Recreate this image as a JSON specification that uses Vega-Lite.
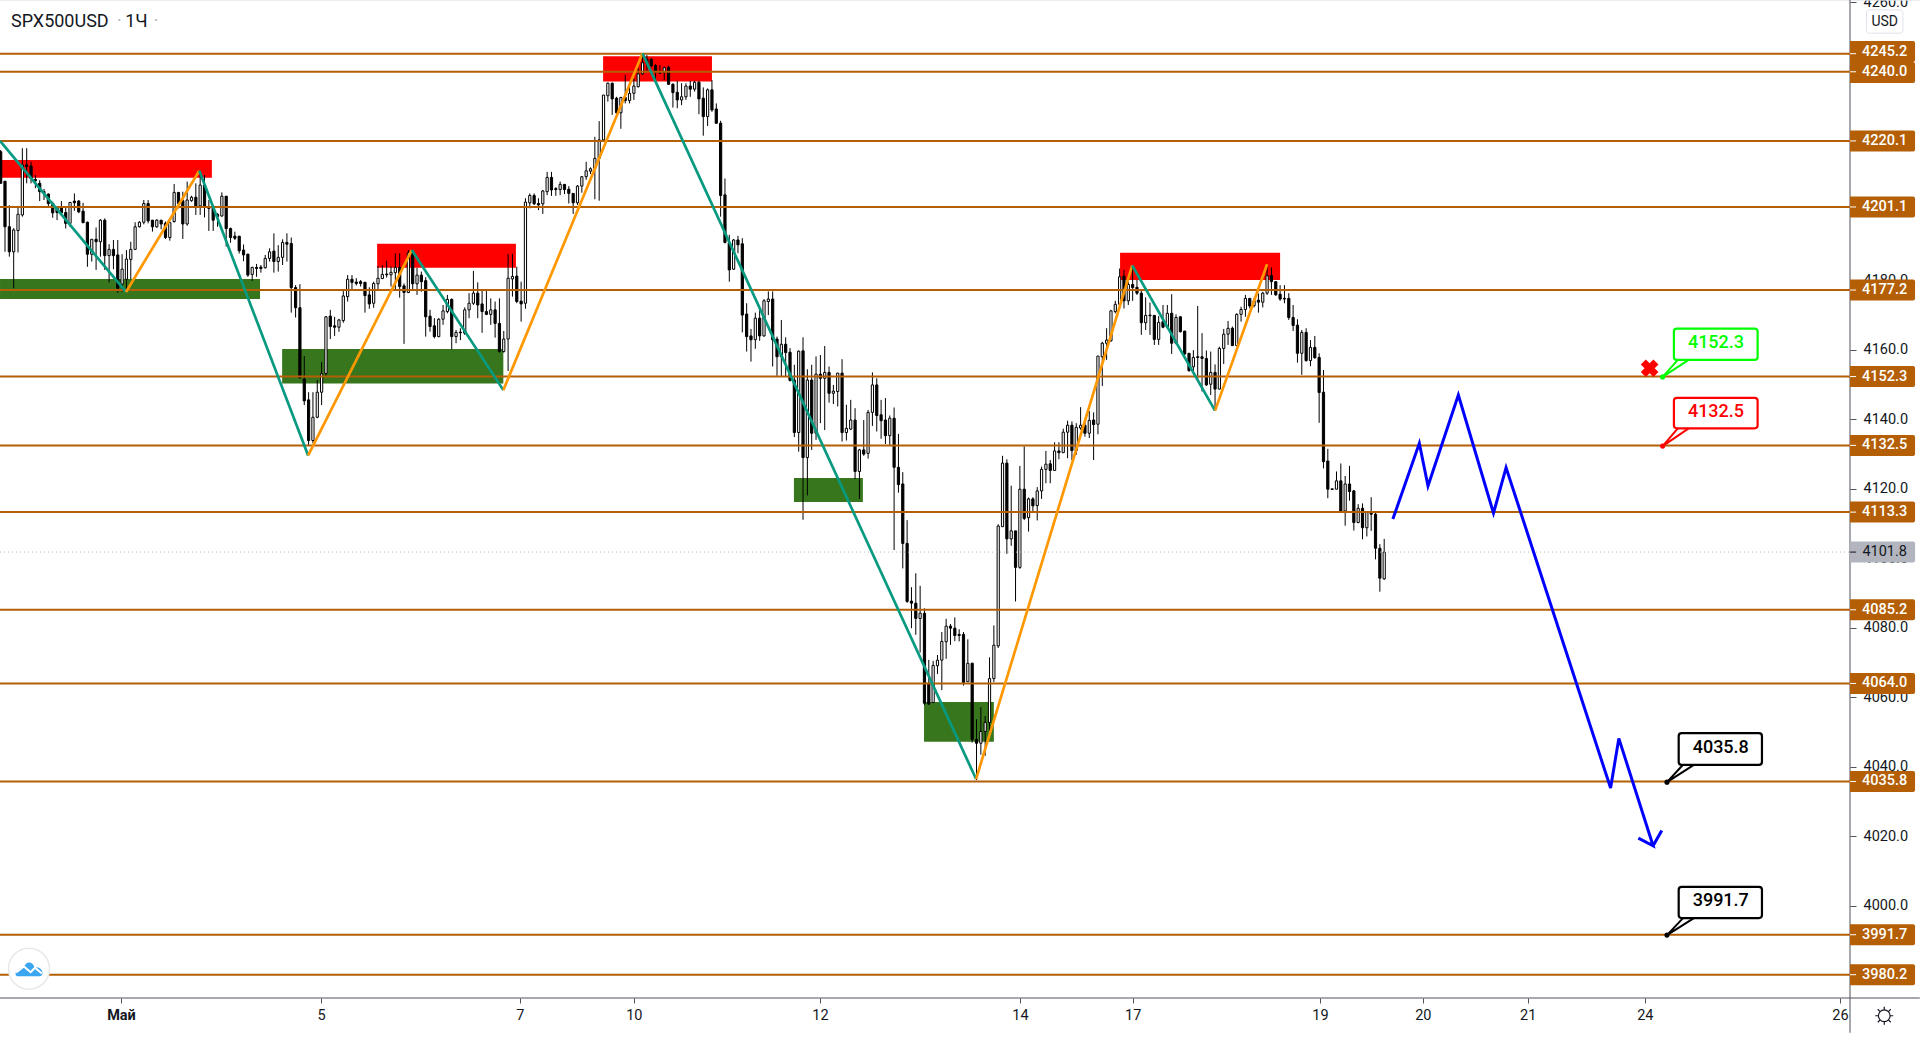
{"$schema":"https://vega.github.io/schema/vega-lite/v6.json","width":1850,"height":998,"autosize":{"type":"none"},"padding":{"left":0,"top":0,"right":70,"bottom":42},"background":"white","config":{"view":{"stroke":null},"font":"Roboto"},
"resolve":{"scale":{"color":"independent","stroke":"independent"}},
"datasets":{
"candles":[
{"i":0,"o":4217,"h":4217.5,"l":4207.9,"c":4207.9},{"i":1,"o":4208.5,"h":4208.5,"l":4188.2,"c":4195.4},{"i":2,"o":4195.4,"h":4201.6,"l":4186.8,"c":4188.2},{"i":3,"o":4188.2,"h":4195,"l":4177.7,"c":4194.5},{"i":4,"o":4194.3,"h":4201.4,"l":4188,"c":4199},{"i":5,"o":4198.8,"h":4218,"l":4198.3,"c":4213.2},{"i":6,"o":4213.2,"h":4218,"l":4207.9,"c":4212.7},{"i":7,"o":4212.9,"h":4214.1,"l":4207.9,"c":4209.3},{"i":8,"o":4209,"h":4210.3,"l":4206.5,"c":4208.6},{"i":9,"o":4207.9,"h":4208.8,"l":4202.8,"c":4205.5},
{"i":10,"o":4205.5,"h":4206.3,"l":4203.1,"c":4205.2},{"i":11,"o":4204.8,"h":4205,"l":4201.4,"c":4202.1},{"i":12,"o":4202.1,"h":4202.6,"l":4198,"c":4199.4},{"i":13,"o":4201,"h":4201,"l":4197.3,"c":4199.5},{"i":14,"o":4201,"h":4202.8,"l":4198.8,"c":4199.4},{"i":15,"o":4199.5,"h":4201,"l":4194.9,"c":4196.4},{"i":16,"o":4196.4,"h":4202.4,"l":4195.4,"c":4202.4},{"i":17,"o":4202.8,"h":4205,"l":4200,"c":4202.3},{"i":18,"o":4202.8,"h":4203.1,"l":4199.3,"c":4199.7},{"i":19,"o":4199.9,"h":4202.3,"l":4196.4,"c":4196.6},
{"i":20,"o":4196.7,"h":4196.9,"l":4183.9,"c":4187.5},{"i":21,"o":4187.5,"h":4191.8,"l":4185.4,"c":4191.8},{"i":22,"o":4191.8,"h":4195.2,"l":4183,"c":4191.1},{"i":23,"o":4191.1,"h":4197.6,"l":4186.8,"c":4197.3},{"i":24,"o":4197.3,"h":4197.8,"l":4183,"c":4187.1},{"i":25,"o":4187.1,"h":4190.4,"l":4179.4,"c":4188.9},{"i":26,"o":4188.9,"h":4191.6,"l":4183.2,"c":4187.1},{"i":27,"o":4187.3,"h":4191.6,"l":4176.4,"c":4177.7},{"i":28,"o":4178.9,"h":4187.5,"l":4176.7,"c":4183.2},{"i":29,"o":4180.3,"h":4188.7,"l":4176.7,"c":4186.1},
{"i":30,"o":4186,"h":4191.1,"l":4180.3,"c":4188.9},{"i":31,"o":4188.9,"h":4196.7,"l":4188.9,"c":4195.4},{"i":32,"o":4195.4,"h":4197,"l":4195.2,"c":4196.7},{"i":33,"o":4196.7,"h":4203.1,"l":4196.1,"c":4202.1},{"i":34,"o":4202.1,"h":4203.1,"l":4196.4,"c":4197.1},{"i":35,"o":4197.3,"h":4197.3,"l":4194,"c":4195.4},{"i":36,"o":4195.4,"h":4197.6,"l":4195.1,"c":4197.3},{"i":37,"o":4197.3,"h":4197.3,"l":4194.7,"c":4196.2},{"i":38,"o":4196.4,"h":4196.9,"l":4191.9,"c":4192.3},{"i":39,"o":4192.3,"h":4196.9,"l":4191.4,"c":4196.6},
{"i":40,"o":4196.9,"h":4207.7,"l":4196.6,"c":4205.3},{"i":41,"o":4205.3,"h":4205.3,"l":4200.7,"c":4202.1},{"i":42,"o":4202.9,"h":4205.5,"l":4191.9,"c":4196.2},{"i":43,"o":4196.2,"h":4208.4,"l":4195.7,"c":4203.1},{"i":44,"o":4202.9,"h":4204.3,"l":4202.6,"c":4203.9},{"i":45,"o":4203.9,"h":4207.9,"l":4198.8,"c":4201.4},{"i":46,"o":4201.4,"h":4211.5,"l":4198.8,"c":4207.4},{"i":47,"o":4207.4,"h":4210.3,"l":4198.1,"c":4201},{"i":48,"o":4201.2,"h":4203.1,"l":4194.2,"c":4200.7},{"i":49,"o":4201.2,"h":4201.7,"l":4194.2,"c":4197.3},
{"i":50,"o":4199,"h":4199.3,"l":4195.4,"c":4198.3},{"i":51,"o":4198.5,"h":4205.3,"l":4198.3,"c":4204.2},{"i":52,"o":4204.2,"h":4204.2,"l":4189.7,"c":4194.9},{"i":53,"o":4194.9,"h":4195.2,"l":4190.8,"c":4192.3},{"i":54,"o":4192.7,"h":4194,"l":4191.6,"c":4192.1},{"i":55,"o":4192.7,"h":4192.7,"l":4187.7,"c":4188.5},{"i":56,"o":4188.7,"h":4190.3,"l":4185.5,"c":4187.3},{"i":57,"o":4187.5,"h":4187.7,"l":4181,"c":4181.5},{"i":58,"o":4181.7,"h":4183.9,"l":4179.8,"c":4183.7},{"i":59,"o":4183.7,"h":4184.7,"l":4181,"c":4183.4},
{"i":60,"o":4183.8,"h":4184.4,"l":4182.2,"c":4183.4},{"i":61,"o":4183.6,"h":4187.3,"l":4183.4,"c":4186.3},{"i":62,"o":4186.3,"h":4189.2,"l":4185.4,"c":4188.2},{"i":63,"o":4188.4,"h":4193.5,"l":4182.2,"c":4185.4},{"i":64,"o":4185.4,"h":4190.1,"l":4182.5,"c":4186.6},{"i":65,"o":4186.6,"h":4191.8,"l":4184.4,"c":4190.9},{"i":66,"o":4190.9,"h":4193.5,"l":4185.4,"c":4190.4},{"i":67,"o":4190.6,"h":4192.3,"l":4170.7,"c":4177.9},{"i":68,"o":4177.9,"h":4178.6,"l":4169.3,"c":4172.1},{"i":69,"o":4172.1,"h":4178.9,"l":4151.8,"c":4151.9},
{"i":70,"o":4151.6,"h":4158.2,"l":4144.1,"c":4145.3},{"i":71,"o":4145.6,"h":4147.8,"l":4132.6,"c":4133.9},{"i":72,"o":4133.9,"h":4147.8,"l":4133.1,"c":4140.6},{"i":73,"o":4140.6,"h":4151.3,"l":4140.3,"c":4147.8},{"i":74,"o":4147.8,"h":4156.5,"l":4144.1,"c":4153.1},{"i":75,"o":4153.2,"h":4169.7,"l":4152.3,"c":4169.5},{"i":76,"o":4169.7,"h":4171.5,"l":4163.1,"c":4166.7},{"i":77,"o":4166.9,"h":4169.5,"l":4164,"c":4166.5},{"i":78,"o":4166.5,"h":4168.9,"l":4165.2,"c":4168.6},{"i":79,"o":4168.4,"h":4177,"l":4167.8,"c":4175.5},
{"i":80,"o":4175.3,"h":4181.5,"l":4173.9,"c":4180.3},{"i":81,"o":4180.3,"h":4181.5,"l":4177.2,"c":4179.4},{"i":82,"o":4179.5,"h":4180.6,"l":4178.5,"c":4179.1},{"i":83,"o":4179.6,"h":4180.1,"l":4178.2,"c":4179.1},{"i":84,"o":4179.4,"h":4179.6,"l":4170.7,"c":4175.6},{"i":85,"o":4175.8,"h":4178,"l":4171.8,"c":4173.2},{"i":86,"o":4173.4,"h":4179.6,"l":4172.1,"c":4179.1},{"i":87,"o":4179,"h":4184.1,"l":4177.4,"c":4180.6},{"i":88,"o":4180.5,"h":4184.4,"l":4180.5,"c":4181.7},{"i":89,"o":4181.8,"h":4185.6,"l":4180.8,"c":4181.6},
{"i":90,"o":4181.6,"h":4184,"l":4178.2,"c":4182.3},{"i":91,"o":4182.2,"h":4187.8,"l":4177.2,"c":4183.7},{"i":92,"o":4183.7,"h":4187.8,"l":4175,"c":4178.2},{"i":93,"o":4178.4,"h":4179.1,"l":4161.7,"c":4176.5},{"i":94,"o":4176.5,"h":4188.7,"l":4176.3,"c":4187.9},{"i":95,"o":4187.9,"h":4188.7,"l":4177.2,"c":4179},{"i":96,"o":4179,"h":4183.6,"l":4175.8,"c":4181.5},{"i":97,"o":4181.5,"h":4182.5,"l":4176.7,"c":4179.6},{"i":98,"o":4179.9,"h":4180.9,"l":4163.8,"c":4169.5},{"i":99,"o":4169.7,"h":4171.5,"l":4165.2,"c":4166.7},
{"i":100,"o":4166.9,"h":4169.1,"l":4163.3,"c":4163.8},{"i":101,"o":4163.8,"h":4169.1,"l":4163.6,"c":4168.8},{"i":102,"o":4168.8,"h":4172.9,"l":4167.2,"c":4171.2},{"i":103,"o":4171,"h":4175.8,"l":4170.5,"c":4174.5},{"i":104,"o":4174.5,"h":4174.8,"l":4160.1,"c":4163.8},{"i":105,"o":4163.8,"h":4165.7,"l":4161.9,"c":4165},{"i":106,"o":4165.1,"h":4166.2,"l":4162.8,"c":4164.9},{"i":107,"o":4164.8,"h":4172.2,"l":4164.3,"c":4171.5},{"i":108,"o":4171.5,"h":4176.3,"l":4169.1,"c":4173.4},{"i":109,"o":4173.4,"h":4182.7,"l":4172.9,"c":4176.3},
{"i":110,"o":4176.3,"h":4179.4,"l":4169.1,"c":4172.9},{"i":111,"o":4173.2,"h":4177.2,"l":4164.9,"c":4171},{"i":112,"o":4171,"h":4176.9,"l":4170,"c":4170.2},{"i":113,"o":4170.2,"h":4174.8,"l":4167.2,"c":4171.5},{"i":114,"o":4171.5,"h":4173.9,"l":4163.5,"c":4167.6},{"i":115,"o":4167.6,"h":4174.8,"l":4159.2,"c":4159.5},{"i":116,"o":4159.5,"h":4165.4,"l":4159.2,"c":4163.1},{"i":117,"o":4163.1,"h":4187.6,"l":4153.9,"c":4180.6},{"i":118,"o":4180.4,"h":4187.6,"l":4175.3,"c":4181.1},{"i":119,"o":4181.2,"h":4183.9,"l":4173.4,"c":4173.9},
{"i":120,"o":4174,"h":4179.6,"l":4168.1,"c":4173.2},{"i":121,"o":4173.4,"h":4203.6,"l":4171.8,"c":4202.5},{"i":122,"o":4202.3,"h":4205,"l":4200.7,"c":4204.4},{"i":123,"o":4204.4,"h":4205,"l":4201.7,"c":4202},{"i":124,"o":4202.1,"h":4203.6,"l":4200.2,"c":4201.7},{"i":125,"o":4202,"h":4206,"l":4199.1,"c":4205.7},{"i":126,"o":4205.5,"h":4211.2,"l":4204.5,"c":4209.6},{"i":127,"o":4209.6,"h":4211.2,"l":4204.3,"c":4206},{"i":128,"o":4206.4,"h":4206.8,"l":4204.3,"c":4206.1},{"i":129,"o":4206.1,"h":4208.4,"l":4204.5,"c":4207.6},
{"i":130,"o":4207.6,"h":4207.6,"l":4204.8,"c":4206.1},{"i":131,"o":4206.2,"h":4207.1,"l":4202.1,"c":4205},{"i":132,"o":4205,"h":4205,"l":4199.1,"c":4202.3},{"i":133,"o":4202.3,"h":4207.4,"l":4201.7,"c":4207.1},{"i":134,"o":4207.1,"h":4210,"l":4205.2,"c":4209.8},{"i":135,"o":4209.8,"h":4214.1,"l":4208.9,"c":4211.5},{"i":136,"o":4211.4,"h":4212.5,"l":4210.6,"c":4212.1},{"i":137,"o":4212.2,"h":4221.3,"l":4203.3,"c":4215.1},{"i":138,"o":4215.1,"h":4225.8,"l":4202.9,"c":4220.4},{"i":139,"o":4220.4,"h":4233.3,"l":4219.9,"c":4233.3},
{"i":140,"o":4233.1,"h":4236.9,"l":4231.4,"c":4236.7},{"i":141,"o":4236.7,"h":4236.9,"l":4227.6,"c":4232.2},{"i":142,"o":4232.4,"h":4232.8,"l":4227.6,"c":4228.2},{"i":143,"o":4228.2,"h":4232.8,"l":4223.6,"c":4232.6},{"i":144,"o":4232.6,"h":4239.1,"l":4230.9,"c":4231.7},{"i":145,"o":4231.7,"h":4235.7,"l":4230.9,"c":4233.8},{"i":146,"o":4233.8,"h":4238.1,"l":4231.9,"c":4235.9},{"i":147,"o":4235.7,"h":4241,"l":4235.5,"c":4239.4},{"i":148,"o":4239.4,"h":4245.3,"l":4239.1,"c":4242.6},{"i":149,"o":4243.6,"h":4244.8,"l":4240.3,"c":4242.4},
{"i":150,"o":4243.6,"h":4243.9,"l":4241.3,"c":4241.7},{"i":151,"o":4241.8,"h":4242.2,"l":4237.8,"c":4239.9},{"i":152,"o":4239.8,"h":4241.9,"l":4239.4,"c":4239.6},{"i":153,"o":4239.7,"h":4241.5,"l":4237.6,"c":4241.2},{"i":154,"o":4241.3,"h":4241.7,"l":4236.2,"c":4236.4},{"i":155,"o":4236.4,"h":4236.7,"l":4229.7,"c":4234},{"i":156,"o":4234.1,"h":4237.4,"l":4229.5,"c":4231.9},{"i":157,"o":4231.9,"h":4236.7,"l":4230.4,"c":4232.8},{"i":158,"o":4232.8,"h":4236.7,"l":4231.9,"c":4235.9},{"i":159,"o":4235.9,"h":4237.4,"l":4232.8,"c":4235},
{"i":160,"o":4235,"h":4237.4,"l":4234.3,"c":4237},{"i":161,"o":4237,"h":4237.4,"l":4227.8,"c":4232.2},{"i":162,"o":4232.4,"h":4235.5,"l":4221.6,"c":4227.1},{"i":163,"o":4227.1,"h":4235.2,"l":4224.4,"c":4234.8},{"i":164,"o":4234.8,"h":4237.6,"l":4228.5,"c":4229},{"i":165,"o":4229.3,"h":4230.9,"l":4225,"c":4225.2},{"i":166,"o":4225.2,"h":4225.9,"l":4198.3,"c":4204.4},{"i":167,"o":4204.6,"h":4209.3,"l":4190.6,"c":4190.9},{"i":168,"o":4190.8,"h":4193.1,"l":4179.6,"c":4183},{"i":169,"o":4183.2,"h":4191.9,"l":4183,"c":4191.6},
{"i":170,"o":4191.6,"h":4192.8,"l":4187.8,"c":4190.2},{"i":171,"o":4190.5,"h":4192.1,"l":4165,"c":4170},{"i":172,"o":4170.3,"h":4173.4,"l":4159.5,"c":4163.8},{"i":173,"o":4164,"h":4166,"l":4156.6,"c":4162.9},{"i":174,"o":4162.9,"h":4170.7,"l":4160.3,"c":4169.1},{"i":175,"o":4169.1,"h":4171.5,"l":4162.6,"c":4164},{"i":176,"o":4164,"h":4174.6,"l":4163.8,"c":4174.1},{"i":177,"o":4173.9,"h":4176.8,"l":4170,"c":4174.6},{"i":178,"o":4174.6,"h":4176.8,"l":4155.2,"c":4162.9},{"i":179,"o":4163.1,"h":4163.8,"l":4152.5,"c":4158},
{"i":180,"o":4158,"h":4168.6,"l":4152.3,"c":4161.6},{"i":181,"o":4161.6,"h":4163.6,"l":4152.3,"c":4159.2},{"i":182,"o":4159.3,"h":4160.5,"l":4150.9,"c":4151.2},{"i":183,"o":4151.3,"h":4155.7,"l":4134.9,"c":4136.2},{"i":184,"o":4136.2,"h":4159.8,"l":4130.7,"c":4159.6},{"i":185,"o":4159.7,"h":4163.6,"l":4111.1,"c":4129},{"i":186,"o":4129,"h":4154.4,"l":4118.1,"c":4151.3},{"i":187,"o":4151.3,"h":4155.7,"l":4131.2,"c":4136},{"i":188,"o":4136,"h":4158.1,"l":4134.1,"c":4153},{"i":189,"o":4153,"h":4158.5,"l":4138.9,"c":4151.8},
{"i":190,"o":4151.8,"h":4161.1,"l":4136.9,"c":4153.5},{"i":191,"o":4153.5,"h":4155.2,"l":4144.8,"c":4147.5},{"i":192,"o":4147.5,"h":4149.9,"l":4144.4,"c":4148.1},{"i":193,"o":4148,"h":4153.3,"l":4143.7,"c":4153.3},{"i":194,"o":4153.3,"h":4157.3,"l":4133.6,"c":4136.2},{"i":195,"o":4136.2,"h":4144.2,"l":4133.9,"c":4137.4},{"i":196,"o":4137.2,"h":4145.6,"l":4136.9,"c":4139.8},{"i":197,"o":4139.8,"h":4143.2,"l":4122.8,"c":4125},{"i":198,"o":4125,"h":4131.5,"l":4117.1,"c":4131.2},{"i":199,"o":4131.2,"h":4139.8,"l":4129.5,"c":4130},
{"i":200,"o":4130.2,"h":4142.7,"l":4128.7,"c":4142},{"i":201,"o":4142,"h":4153.5,"l":4138.1,"c":4149.9},{"i":202,"o":4149.9,"h":4151.8,"l":4136.5,"c":4141.1},{"i":203,"o":4141.3,"h":4145.6,"l":4134.4,"c":4139.6},{"i":204,"o":4139.8,"h":4146.1,"l":4132.9,"c":4135.3},{"i":205,"o":4135.3,"h":4141.1,"l":4132.6,"c":4140.3},{"i":206,"o":4140.3,"h":4143.4,"l":4102.4,"c":4126.2},{"i":207,"o":4126.2,"h":4135.8,"l":4118.9,"c":4121.2},{"i":208,"o":4121.4,"h":4124.8,"l":4097.1,"c":4104.3},{"i":209,"o":4104.3,"h":4111,"l":4087.2,"c":4087.6},
{"i":210,"o":4087.7,"h":4091.7,"l":4079.9,"c":4087.1},{"i":211,"o":4087.1,"h":4095.7,"l":4078,"c":4082.7},{"i":212,"o":4082.7,"h":4092.1,"l":4072.9,"c":4084.2},{"i":213,"o":4084.2,"h":4085.6,"l":4057.8,"c":4058.3},{"i":214,"o":4064.1,"h":4070.8,"l":4057.8,"c":4058.1},{"i":215,"o":4058.5,"h":4070.5,"l":4058.5,"c":4069.2},{"i":216,"o":4069.1,"h":4072.2,"l":4066.7,"c":4070.7},{"i":217,"o":4070.7,"h":4078.8,"l":4062.1,"c":4076.1},{"i":218,"o":4076,"h":4082.6,"l":4071.1,"c":4080.5},{"i":219,"o":4080.5,"h":4081.1,"l":4075.1,"c":4079.9},
{"i":220,"o":4079.9,"h":4083,"l":4076.2,"c":4077.8},{"i":221,"o":4078.1,"h":4079.6,"l":4076.1,"c":4077.8},{"i":222,"o":4078.1,"h":4078.8,"l":4063.4,"c":4064.3},{"i":223,"o":4064.5,"h":4076.7,"l":4064.5,"c":4069.8},{"i":224,"o":4069.8,"h":4070,"l":4047,"c":4047.9},{"i":225,"o":4047.9,"h":4053.7,"l":4036.2,"c":4046.8},{"i":226,"o":4046.8,"h":4057.2,"l":4043.5,"c":4050.2},{"i":227,"o":4050.2,"h":4054.6,"l":4043.2,"c":4052.8},{"i":228,"o":4052.8,"h":4071.5,"l":4050.2,"c":4065.4},{"i":229,"o":4065.4,"h":4080.7,"l":4064.4,"c":4075},
{"i":230,"o":4074.8,"h":4109.8,"l":4074.2,"c":4109.3},{"i":231,"o":4109.1,"h":4129.5,"l":4109.1,"c":4127.4},{"i":232,"o":4127.4,"h":4128.5,"l":4101.3,"c":4105.6},{"i":233,"o":4105.6,"h":4120.9,"l":4103.6,"c":4107.9},{"i":234,"o":4107.9,"h":4107.9,"l":4087.6,"c":4097.4},{"i":235,"o":4097.4,"h":4126.6,"l":4097,"c":4119.9},{"i":236,"o":4119.9,"h":4132.2,"l":4111,"c":4111.5},{"i":237,"o":4111.7,"h":4117.5,"l":4107.7,"c":4117.1},{"i":238,"o":4117.1,"h":4117.6,"l":4113.5,"c":4115.1},{"i":239,"o":4115.2,"h":4120.5,"l":4110.9,"c":4119.4},
{"i":240,"o":4119.4,"h":4126.4,"l":4117.1,"c":4125.6},{"i":241,"o":4125.6,"h":4130.9,"l":4121.6,"c":4127.1},{"i":242,"o":4127.2,"h":4128.3,"l":4121.6,"c":4125.3},{"i":243,"o":4125.3,"h":4133.4,"l":4125.3,"c":4130.9},{"i":244,"o":4130.9,"h":4133.4,"l":4128.5,"c":4130.4},{"i":245,"o":4130.4,"h":4137.3,"l":4130.3,"c":4136.3},{"i":246,"o":4136.3,"h":4139.6,"l":4128.8,"c":4138.3},{"i":247,"o":4138.3,"h":4139.4,"l":4128.3,"c":4131},{"i":248,"o":4131,"h":4138.9,"l":4129.8,"c":4137.7},{"i":249,"o":4137.5,"h":4143.5,"l":4137,"c":4138.3},
{"i":250,"o":4138.3,"h":4139.4,"l":4135,"c":4136},{"i":251,"o":4136,"h":4142.4,"l":4134.6,"c":4139.7},{"i":252,"o":4139.8,"h":4142,"l":4128.3,"c":4138.5},{"i":253,"o":4138.6,"h":4158.2,"l":4135.7,"c":4158.2},{"i":254,"o":4158,"h":4162.3,"l":4149.6,"c":4161.9},{"i":255,"o":4161.9,"h":4166.2,"l":4157.1,"c":4162.8},{"i":256,"o":4162.6,"h":4171.5,"l":4162.3,"c":4171.2},{"i":257,"o":4171,"h":4174.1,"l":4170.5,"c":4173.1},{"i":258,"o":4173.1,"h":4183.4,"l":4172.9,"c":4181},{"i":259,"o":4181.2,"h":4183,"l":4171.9,"c":4174.1},
{"i":260,"o":4174.1,"h":4179.6,"l":4172.9,"c":4178.8},{"i":261,"o":4178.8,"h":4183.7,"l":4174.1,"c":4177.9},{"i":262,"o":4178,"h":4180.1,"l":4175.8,"c":4176.3},{"i":263,"o":4176.3,"h":4177.2,"l":4164.3,"c":4167.8},{"i":264,"o":4167.8,"h":4175.1,"l":4165.7,"c":4169.9},{"i":265,"o":4170,"h":4173.6,"l":4164.3,"c":4169.8},{"i":266,"o":4169.9,"h":4170,"l":4161.4,"c":4163},{"i":267,"o":4163,"h":4169.7,"l":4161.4,"c":4167.9},{"i":268,"o":4168.1,"h":4172.9,"l":4166.2,"c":4166.5},{"i":269,"o":4166.5,"h":4172.9,"l":4166.2,"c":4170.5},
{"i":270,"o":4170.5,"h":4176,"l":4158.8,"c":4161.9},{"i":271,"o":4161.9,"h":4170.2,"l":4161.6,"c":4169.3},{"i":272,"o":4169.5,"h":4169.7,"l":4165,"c":4165.2},{"i":273,"o":4165.4,"h":4165.4,"l":4158.5,"c":4158.8},{"i":274,"o":4159,"h":4159,"l":4153.7,"c":4154},{"i":275,"o":4155.1,"h":4159.9,"l":4153.2,"c":4157.8},{"i":276,"o":4158,"h":4172.6,"l":4150.8,"c":4157.8},{"i":277,"o":4158,"h":4164.8,"l":4148,"c":4157.5},{"i":278,"o":4157.5,"h":4159.8,"l":4149.6,"c":4149.9},{"i":279,"o":4150.1,"h":4159.5,"l":4147,"c":4153.5},
{"i":280,"o":4153.5,"h":4155.8,"l":4142.7,"c":4148.7},{"i":281,"o":4148.7,"h":4160.9,"l":4148.6,"c":4160.4},{"i":282,"o":4160.4,"h":4166,"l":4155.9,"c":4164.5},{"i":283,"o":4164.5,"h":4168.3,"l":4161.4,"c":4166.2},{"i":284,"o":4166.2,"h":4166.7,"l":4161.1,"c":4161.2},{"i":285,"o":4161.2,"h":4170.5,"l":4161.1,"c":4170.2},{"i":286,"o":4170.2,"h":4172.4,"l":4168.1,"c":4171.6},{"i":287,"o":4171.6,"h":4175.8,"l":4169.5,"c":4174.8},{"i":288,"o":4174.8,"h":4174.8,"l":4171.9,"c":4172.6},{"i":289,"o":4172.7,"h":4174.8,"l":4172.2,"c":4174.1},
{"i":290,"o":4174.3,"h":4176.2,"l":4170.7,"c":4173.7},{"i":291,"o":4173.7,"h":4176.7,"l":4172.2,"c":4176.3},{"i":292,"o":4176.3,"h":4184.4,"l":4175.8,"c":4181.3},{"i":293,"o":4181.4,"h":4183.7,"l":4175.8,"c":4179.6},{"i":294,"o":4179.6,"h":4179.6,"l":4175.6,"c":4175.8},{"i":295,"o":4176,"h":4178.6,"l":4174.1,"c":4174.6},{"i":296,"o":4174.8,"h":4178.6,"l":4173.4,"c":4174.6},{"i":297,"o":4174.8,"h":4176.3,"l":4168.6,"c":4169.3},{"i":298,"o":4169.3,"h":4172.9,"l":4165.4,"c":4167},{"i":299,"o":4167.1,"h":4168.8,"l":4156.3,"c":4159},
{"i":300,"o":4159,"h":4165.7,"l":4152.8,"c":4165},{"i":301,"o":4165,"h":4166.2,"l":4156.6,"c":4156.9},{"i":302,"o":4156.9,"h":4162.8,"l":4155.3,"c":4160.7},{"i":303,"o":4160.7,"h":4164,"l":4157.5,"c":4157.7},{"i":304,"o":4157.8,"h":4159,"l":4139,"c":4147.7},{"i":305,"o":4147.8,"h":4154.2,"l":4125.9,"c":4127.8},{"i":306,"o":4128,"h":4131.5,"l":4117.3,"c":4119.9},{"i":307,"o":4120,"h":4120,"l":4119.8,"c":4119.8},{"i":308,"o":4119.9,"h":4125,"l":4119.9,"c":4122.3},{"i":309,"o":4122.3,"h":4127.3,"l":4113.4,"c":4113.6},
{"i":310,"o":4113.6,"h":4123.7,"l":4109.4,"c":4121.4},{"i":311,"o":4121.4,"h":4126.6,"l":4116.6,"c":4119.2},{"i":312,"o":4119.4,"h":4119.7,"l":4108,"c":4110.3},{"i":313,"o":4110.3,"h":4115.6,"l":4110.1,"c":4114.4},{"i":314,"o":4114.4,"h":4115.8,"l":4105.5,"c":4108.8},{"i":315,"o":4108.8,"h":4113.4,"l":4106.3,"c":4113.4},{"i":316,"o":4113,"h":4117.6,"l":4107.9,"c":4112.7},{"i":317,"o":4112.7,"h":4113.4,"l":4099.7,"c":4102.9},{"i":318,"o":4102.9,"h":4104.1,"l":4090.4,"c":4094.3},{"i":319,"o":4094.1,"h":4105.6,"l":4093.8,"c":4101.8}
],
"levels":[{"p":4245.2,"tag":4245.8,"label":"4245.2","i":426.4,"i2":441.4,"ti":434.4,"tick":427.8},{"p":4240.0,"tag":4239.8,"label":"4240.0","i":426.4,"i2":441.4,"ti":434.4,"tick":427.8},{"p":4220.1,"tag":4220.1,"label":"4220.1","i":426.4,"i2":441.4,"ti":434.4,"tick":427.8},{"p":4201.1,"tag":4201.1,"label":"4201.1","i":426.4,"i2":441.4,"ti":434.4,"tick":427.8},{"p":4177.2,"tag":4177.2,"label":"4177.2","i":426.4,"i2":441.4,"ti":434.4,"tick":427.8},{"p":4152.3,"tag":4152.3,"label":"4152.3","i":426.4,"i2":441.4,"ti":434.4,"tick":427.8},{"p":4132.5,"tag":4132.5,"label":"4132.5","i":426.4,"i2":441.4,"ti":434.4,"tick":427.8},{"p":4113.3,"tag":4113.3,"label":"4113.3","i":426.4,"i2":441.4,"ti":434.4,"tick":427.8},{"p":4085.2,"tag":4085.2,"label":"4085.2","i":426.4,"i2":441.4,"ti":434.4,"tick":427.8},{"p":4064.0,"tag":4064.0,"label":"4064.0","i":426.4,"i2":441.4,"ti":434.4,"tick":427.8},{"p":4035.8,"tag":4035.8,"label":"4035.8","i":426.4,"i2":441.4,"ti":434.4,"tick":427.8},{"p":3991.7,"tag":3991.7,"label":"3991.7","i":426.4,"i2":441.4,"ti":434.4,"tick":427.8},{"p":3980.2,"tag":3980.2,"label":"3980.2","i":426.4,"i2":441.4,"ti":434.4,"tick":427.8}],
"last":[{"p":4101.8,"label":"4101.8","i":426.4,"i2":441.4,"ti":434.4,"tick":427.8}],
"zones":[{"kind":"supply","i":-0.15,"i2":48.7,"p":4214.6,"p2":4209.5},{"kind":"demand","i":-0.15,"i2":59.8,"p":4180.4,"p2":4174.6},{"kind":"supply","i":86.8,"i2":118.8,"p":4190.5,"p2":4183.6},{"kind":"demand","i":64.9,"i2":115.9,"p":4160.25,"p2":4150.3},{"kind":"supply","i":138.9,"i2":164,"p":4244.5,"p2":4237.2},{"kind":"demand","i":182.9,"i2":198.8,"p":4123.1,"p2":4116.2},{"kind":"demand","i":212.9,"i2":229,"p":4058.7,"p2":4047.2},{"kind":"supply","i":258.1,"i2":295,"p":4187.9,"p2":4180.1}],
"zigzag":[{"seg":1,"dir":"down","i":-0.15,"p":4220.1},{"seg":1,"dir":"down","i":28.9,"p":4176.65},{"seg":2,"dir":"up","i":28.9,"p":4176.65},{"seg":2,"dir":"up","i":45.8,"p":4211.5},{"seg":3,"dir":"down","i":45.8,"p":4211.5},{"seg":3,"dir":"down","i":70.9,"p":4129.6},{"seg":4,"dir":"up","i":70.9,"p":4129.6},{"seg":4,"dir":"up","i":94.8,"p":4188.7},{"seg":5,"dir":"down","i":94.8,"p":4188.7},{"seg":5,"dir":"down","i":115.9,"p":4148.4},{"seg":6,"dir":"up","i":115.9,"p":4148.4},{"seg":6,"dir":"up","i":148,"p":4245.3},{"seg":7,"dir":"down","i":148,"p":4245.3},{"seg":7,"dir":"down","i":224.9,"p":4036.5},{"seg":8,"dir":"up","i":224.9,"p":4036.5},{"seg":8,"dir":"up","i":260.9,"p":4184.3},{"seg":9,"dir":"down","i":260.9,"p":4184.3},{"seg":9,"dir":"down","i":280,"p":4142.5},{"seg":10,"dir":"up","i":280,"p":4142.5},{"seg":10,"dir":"up","i":292,"p":4184.6}],
"forecast":[{"n":1,"i":321,"p":4111.3},{"n":2,"i":327.1,"p":4133.1},{"n":3,"i":329.1,"p":4120.8},{"n":4,"i":336.1,"p":4147},{"n":5,"i":344.2,"p":4113},{"n":6,"i":347.1,"p":4126.1},{"n":7,"i":371.2,"p":4033.9},{"n":8,"i":373.1,"p":4048.2},{"n":9,"i":381,"p":4017.3},{"n":10,"i":377.6,"p":4019.5},{"n":11,"i":381,"p":4017.3},{"n":12,"i":383,"p":4021.7}],
"boxes":[{"label":"4152.3","i":385.8,"i2":405.1,"p":4166.1,"p2":4157.1,"ti":395.5,"tp":4162},{"label":"4132.5","i":385.8,"i2":405.1,"p":4146.2,"p2":4137.4,"ti":395.5,"tp":4142.1},{"label":"4035.8","i":386.9,"i2":406.1,"p":4049.7,"p2":4040.6,"ti":396.6,"tp":4045.5},{"label":"3991.7","i":386.9,"i2":406.1,"p":4005.5,"p2":3996.5,"ti":396.6,"tp":4001.4}],
"tails":[{"label":"4152.3","n":1,"i":386.7,"p":4157.1},{"label":"4152.3","n":2,"i":383.2,"p":4152.2},{"label":"4152.3","n":3,"i":389.2,"p":4157.1},{"label":"4132.5","n":1,"i":386.7,"p":4137.4},{"label":"4132.5","n":2,"i":383.2,"p":4132.3},{"label":"4132.5","n":3,"i":389.2,"p":4137.4},{"label":"4035.8","n":1,"i":387.9,"p":4040.6},{"label":"4035.8","n":2,"i":384.2,"p":4035.6},{"label":"4035.8","n":3,"i":390.4,"p":4040.6},{"label":"3991.7","n":1,"i":387.9,"p":3996.5},{"label":"3991.7","n":2,"i":384.2,"p":3991.6},{"label":"3991.7","n":3,"i":390.4,"p":3996.5}],
"frame":[{"i":-0.15,"i2":442.5,"p":4260.6,"p2":4260.6,"kind":"top"},{"i":-0.15,"i2":442.5,"p":3973.5,"p2":3973.5,"kind":"axis"},{"i":426.4,"i2":426.4,"p":4260.65,"p2":3963.5,"kind":"axis"}]
},
"encoding":{
"x":{"field":"i","type":"quantitative","title":null,"scale":{"domain":[-0.154,426.4],"nice":false,"zero":false,"padding":0},"axis":{"values":[27.74,73.85,119.7,146,188.9,235,261,304.2,327.9,352.1,379.1,424.1],"labelExpr":"['Май','5','7','10','12','14','17','19','20','21','24','26'][indexof([27.74,73.85,119.7,146,188.9,235,261,304.2,327.9,352.1,379.1,424.1],datum.value)]","grid":false,"domain":false,"tickColor":"#50535e","tickSize":5,"labelFontSize":14.5,"labelFont":"Roboto","labelColor":"#131722","labelPadding":5,"labelFontWeight":{"condition":{"test":"datum.value==27.74","value":"bold"},"value":"normal"},"labelFlush":false,"labelOverlap":false}},
"y":{"field":"p","type":"quantitative","title":null,"scale":{"domain":[3973.5,4260.65],"nice":false,"zero":false,"padding":0},"axis":{"orient":"right","values":[4000,4020,4040,4060,4080,4100,4120,4140,4160,4180,4200,4220,4240,4260],"format":".1f","grid":false,"domain":false,"tickColor":"#50535e","tickSize":6,"labelFontSize":14.5,"labelFont":"Roboto","labelColor":"#131722","labelPadding":7,"labelOverlap":false}}
},
"layer":[
{"data":{"name":"frame"},"mark":{"type":"rule","strokeWidth":1},"encoding":{"x2":{"field":"i2"},"y2":{"field":"p2"},"color":{"field":"kind","type":"nominal","scale":{"domain":["top","axis"],"range":["#e0e3eb","#50535e"]},"legend":null}}},
{"data":{"name":"zones"},"mark":{"type":"rect"},"encoding":{"x2":{"field":"i2"},"y2":{"field":"p2"},"color":{"field":"kind","type":"nominal","scale":{"domain":["supply","demand"],"range":["#ff0000","#38761d"]},"legend":null}}},
{"data":{"name":"candles"},"mark":{"type":"rule","strokeWidth":1,"color":"#000000"},"encoding":{"y":{"field":"l","type":"quantitative"},"y2":{"field":"h"}}},
{"data":{"name":"candles"},"mark":{"type":"bar","size":2.2,"stroke":"#000000","strokeWidth":1},"encoding":{"y":{"field":"o","type":"quantitative"},"y2":{"field":"c"},"fill":{"condition":{"test":"datum.c>datum.o","value":"#ffffff"},"value":"#000000"}}},
{"data":{"name":"levels"},"mark":{"type":"rule","strokeWidth":2,"color":"#b45f06"},"encoding":{"x":{"value":0},"x2":{"value":1850}}},
{"data":{"values":[{"p":4101.8}]},"mark":{"type":"rule","strokeWidth":1,"color":"#b2b5be","strokeDash":[1,3]},"encoding":{"x":{"value":0},"x2":{"value":1850}}},
{"data":{"name":"forecast"},"mark":{"type":"line","color":"#0000ff","strokeWidth":3,"strokeJoin":"miter"},"encoding":{"order":{"field":"n","type":"quantitative"}}},
{"data":{"name":"zigzag"},"mark":{"type":"line","strokeWidth":2.7},"encoding":{"detail":{"field":"seg","type":"nominal"},"color":{"field":"dir","type":"nominal","scale":{"domain":["down","up"],"range":["#089981","#ff9800"]},"legend":null}}},
{"data":{"name":"tails"},"mark":{"type":"line","strokeWidth":2},"encoding":{"order":{"field":"n","type":"quantitative"},"color":{"field":"label","type":"nominal","scale":{"domain":["4152.3","4132.5","4035.8","3991.7"],"range":["#00ff00","#ff0000","#000000","#000000"]},"legend":null}}},
{"data":{"name":"boxes"},"mark":{"type":"rect","fill":"#ffffff","strokeWidth":2.2,"cornerRadius":3},"encoding":{"x2":{"field":"i2"},"y2":{"field":"p2"},"stroke":{"field":"label","type":"nominal","scale":{"domain":["4152.3","4132.5","4035.8","3991.7"],"range":["#00ff00","#ff0000","#000000","#000000"]},"legend":null}}},
{"data":{"name":"boxes"},"mark":{"type":"text","fontSize":18,"fontWeight":500,"font":"Roboto","baseline":"middle","align":"center"},"encoding":{"x":{"field":"ti","type":"quantitative"},"y":{"field":"tp","type":"quantitative"},"text":{"field":"label"},"color":{"field":"label","type":"nominal","scale":{"domain":["4152.3","4132.5","4035.8","3991.7"],"range":["#00ff00","#ff0000","#000000","#000000"]},"legend":null}}},
{"data":{"values":[{"i":383.2,"p":4152.2,"label":"4152.3"},{"i":383.2,"p":4132.3,"label":"4132.5"},{"i":384.2,"p":4035.6,"label":"4035.8"},{"i":384.2,"p":3991.6,"label":"3991.7"}]},"mark":{"type":"point","filled":true,"size":26,"opacity":1},"encoding":{"color":{"field":"label","type":"nominal","scale":{"domain":["4152.3","4132.5","4035.8","3991.7"],"range":["#00ff00","#ff0000","#000000","#000000"]},"legend":null}}},
{"data":{"values":[{"i":380.2,"p":4154.7}]},"mark":{"type":"point","shape":"cross","angle":45,"filled":true,"size":320,"color":"#ff0000","opacity":1}},
{"data":{"name":"levels"},"mark":{"type":"bar","size":21,"color":"#b45f06","cornerRadiusTopRight":2,"cornerRadiusBottomRight":2,"orient":"horizontal"},"encoding":{"x2":{"field":"i2"},"y":{"field":"tag","type":"quantitative"}}},
{"data":{"name":"last"},"mark":{"type":"bar","size":21,"color":"#b2b5be","cornerRadiusTopRight":2,"cornerRadiusBottomRight":2,"orient":"horizontal"},"encoding":{"x2":{"field":"i2"}}},
{"data":{"name":"levels"},"mark":{"type":"rule","color":"#ffffff","strokeWidth":1},"encoding":{"x2":{"field":"tick"}}},
{"data":{"name":"last"},"mark":{"type":"rule","color":"#131722","strokeWidth":1},"encoding":{"x2":{"field":"tick"}}},
{"data":{"name":"levels"},"mark":{"type":"text","fontSize":14.5,"fontWeight":500,"font":"Roboto","color":"#ffffff","baseline":"middle","align":"center"},"encoding":{"x":{"field":"ti","type":"quantitative"},"y":{"field":"tag","type":"quantitative"},"text":{"field":"label"}}},
{"data":{"name":"last"},"mark":{"type":"text","fontSize":14.5,"font":"Roboto","color":"#131722","baseline":"middle","align":"center"},"encoding":{"x":{"field":"ti","type":"quantitative"},"text":{"field":"label"}}},
{"data":{"values":[{"i":430.2,"i2":438.6,"p":4257.8,"p2":4251.1}]},"mark":{"type":"rect","fill":"#ffffff","stroke":"#e0e3eb","strokeWidth":1,"cornerRadius":3},"encoding":{"x2":{"field":"i2"},"y2":{"field":"p2"}}},
{"data":{"values":[{"i":434.4,"p":4254.4,"label":"USD"}]},"mark":{"type":"text","fontSize":14,"font":"Roboto","color":"#131722","baseline":"middle","align":"center"},"encoding":{"text":{"field":"label"}}},
{"data":{"values":[{"i":2.4,"p":4254.3,"label":"SPX500USD"},{"i":26.8,"p":4254.3,"label":"·"},{"i":28.7,"p":4254.3,"label":"1Ч"},{"i":35.3,"p":4254.3,"label":"·"}]},"mark":{"type":"text","fontSize":18,"font":"Roboto","baseline":"middle","align":"left"},"encoding":{"text":{"field":"label"},"color":{"field":"label","type":"nominal","scale":{"domain":["SPX500USD","1Ч","·"],"range":["#131722","#131722","#b2b5be"]},"legend":null}}},
{"data":{"values":[{"i":6.53,"p":3981.9}]},"mark":{"type":"point","shape":"circle","size":1680,"filled":true,"fill":"#ffffff","stroke":"#e8e8e8","strokeWidth":1.5,"opacity":1}},
{"data":{"values":[{"i":6.53,"p":3981.9}]},"mark":{"type":"point","shape":"M-0.85,0.55 C-1.05,0.55 -1.05,0.15 -0.8,0.1 C-0.7,-0.1 -0.5,-0.1 -0.4,-0.05 C-0.3,-0.6 0.3,-0.6 0.4,-0.1 C0.8,-0.2 1,0.1 1,0.3 C1,0.5 0.9,0.55 0.75,0.55 Z","size":729,"filled":true,"fill":"#3ca5ef","strokeWidth":0,"opacity":1}},
{"data":{"values":[{"i":6.53,"p":3981.9}]},"mark":{"type":"point","shape":"M-0.95,0.28 L-0.38,-0.18 L0.12,0.25 L0.45,-0.08 L0.95,0.35","size":729,"filled":false,"stroke":"#ffffff","strokeWidth":2,"opacity":1}},
{"data":{"values":[{"i":434.3,"p":3968.4}]},"mark":{"type":"point","shape":"M0.65,0 A0.65,0.65 0 1 1 -0.65,0 A0.65,0.65 0 1 1 0.65,0 Z M0.65,0 L1,0 M-0.65,0 L-1,0 M0,0.65 L0,1 M0,-0.65 L0,-1 M0.46,0.46 L0.72,0.72 M-0.46,0.46 L-0.72,0.72 M0.46,-0.46 L0.72,-0.72 M-0.46,-0.46 L-0.72,-0.72","size":324,"filled":false,"stroke":"#131722","strokeWidth":1.2,"opacity":1}}
]}
